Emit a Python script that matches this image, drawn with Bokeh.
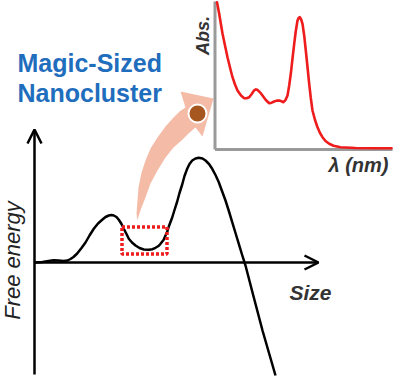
import numpy as np
from bokeh.plotting import figure
from bokeh.models import Range1d, Arrow, OpenHead
from bokeh.core.properties import value
from bokeh.embed import file_html
from bokeh.resources import INLINE

# Free-energy curve (schematic, pixel-like coordinates, y downward)
energy_x = [35, 42, 48, 53, 58, 63, 67, 70, 73, 76.7, 81, 85, 89, 93.3, 97.5, 101.7, 105, 108.3, 111, 113.3, 116,
            118.3, 121, 123.3, 126, 128.3, 131.5, 135, 139, 143.3, 148.3, 152, 155, 158, 160, 163, 165, 167, 168.3,
            170, 171.7, 174, 176.7, 179, 181.7, 184, 186.7, 189, 191.7, 195, 198.3, 202, 205, 208.5, 211.7, 215,
            218.3, 221.5, 225, 228.5, 231.7, 235, 238.3, 241.5, 245, 252, 262, 275]
energy_y = [262, 261.5, 260.5, 259.8, 260, 260.5, 260, 258.5, 256.5, 253, 247.5, 242, 235, 228.3, 223, 219.3,
            216.5, 215, 214.6, 215, 216.5, 219.3, 223.5, 228.3, 233.5, 238.3, 242, 245, 247.5, 249, 249.3, 248.7,
            247.3, 245.5, 243.3, 239.5, 235, 230.5, 226, 221.5, 217, 209.5, 201, 192.5, 184, 175.5, 168.3, 163.5,
            160, 158, 157.3, 158, 160, 163.5, 168.3, 174.5, 181.7, 190.5, 200, 211, 221.7, 232.5, 243.3, 254, 265,
            292, 330, 375]

# Absorption spectrum inset
abs_x = [216.5, 217.5, 218.7, 220.3, 222, 224.5, 227, 229.5, 232, 234.5, 237, 240.5, 243.7, 246, 248.7, 251.2,
         253.7, 255.3, 257, 259.5, 262, 265.3, 268.7, 271.2, 273.7, 276.2, 278.7, 281, 283, 285, 287, 288.7, 290.3,
         292, 293.7, 295.3, 297, 298.2, 299.3, 300.7, 302, 303.7, 305.3, 307, 308.7, 310.3, 312, 314.5, 317, 319.5,
         322, 325, 328.7, 333, 340, 355, 375, 391]
abs_y = [1.7, 7, 13.3, 23, 33, 45, 56.7, 67, 76.7, 84, 90, 95, 97.7, 97.8, 96.7, 93.5, 89.8, 88.9, 89.3, 91.8,
         95, 99.5, 102.7, 102.2, 101, 100.1, 100, 100.8, 101.7, 99.5, 95, 85, 73.3, 58, 43.3, 30.5, 20, 17.3, 16.7,
         19, 23.3, 35, 50, 66.5, 83.3, 97.5, 110, 119.5, 126.7, 132.5, 136.7, 140.5, 143.3, 145.3, 146.8, 147.5, 147.8,
         147.8]

# Pink curved arrow outline
pink_x = [137, 136, 138, 141, 145, 150, 157, 165, 173, 179, 185, 180, 213, 202, 195, 188, 181, 173, 165, 157, 150, 145, 141, 138, 137]
pink_y = [220, 213, 187, 172, 160, 148, 137, 126, 117, 111, 107, 91, 98, 136, 127, 133, 140, 147, 157, 170, 183, 197, 207, 216, 220]

# Highlight box (metastable minimum)
box = dict(left=[121.5], right=[166.5], top=[226.5], bottom=[253.5])

title_lines = ["Magic-Sized", "Nanocluster"]

p = figure(width=394, height=378, output_backend="svg", toolbar_location=None,
           x_range=Range1d(0, 394), y_range=Range1d(378, 0), min_border=0)
p.axis.visible = False
p.grid.visible = False
p.outline_line_color = None
p.background_fill_color = "white"

# pink arrow + particle
p.patch(pink_x, pink_y, fill_color="#f4bba7", line_color=None)
p.scatter([197], [113], size=18, fill_color="#a6561f", line_color="white", line_width=2)

# inset axes
p.line([214.5, 214.5], [1, 149], line_color="#9a9a9a", line_width=3)
p.line([214.5, 392], [149, 149], line_color="#9a9a9a", line_width=3)
p.line(abs_x, abs_y, line_color="#ee1c1c", line_width=2.6, line_join="round", line_cap="round")

# main axes
p.add_layout(Arrow(end=OpenHead(size=14, line_width=2.5, line_color="black"),
                   x_start=34, y_start=374, x_end=34, y_end=129,
                   line_width=2.5, line_color="black"))
p.add_layout(Arrow(end=OpenHead(size=14, line_width=2.5, line_color="black"),
                   x_start=34, y_start=262, x_end=318, y_end=262,
                   line_width=2.5, line_color="black"))

p.line(energy_x, energy_y, line_color="black", line_width=2.5, line_join="round")

p.quad(fill_alpha=0, line_color="#ee1c1c", line_width=3.5, line_dash="3 2", **box)

# texts
p.text(x=[17, 17], y=[62, 92], text=title_lines, text_font=value("Liberation Sans"),
       text_font_style="bold", text_font_size="25px", text_color="#1f6dbd",
       text_align="left", text_baseline="alphabetic")
p.text(x=[12], y=[260], text=["Free energy"], angle=np.pi / 2, text_font=value("Liberation Sans"),
       text_font_style="italic", text_font_size="22px", text_color="#222222",
       text_align="center", text_baseline="middle")
p.text(x=[310], y=[292], text=["Size"], text_font=value("Liberation Sans"),
       text_font_style="bold italic", text_font_size="21px", text_color="#333333",
       text_align="center", text_baseline="middle")
p.text(x=[358], y=[164], text=["λ (nm)"], text_font=value("Liberation Sans"),
       text_font_style="bold italic", text_font_size="20px", text_color="#333333",
       text_align="center", text_baseline="middle")
p.text(x=[202], y=[35], text=["Abs."], angle=np.pi / 2, text_font=value("Liberation Sans"),
       text_font_style="bold italic", text_font_size="18px", text_color="#333333",
       text_align="center", text_baseline="middle")

open("out.html", "w").write(file_html(p, INLINE))
